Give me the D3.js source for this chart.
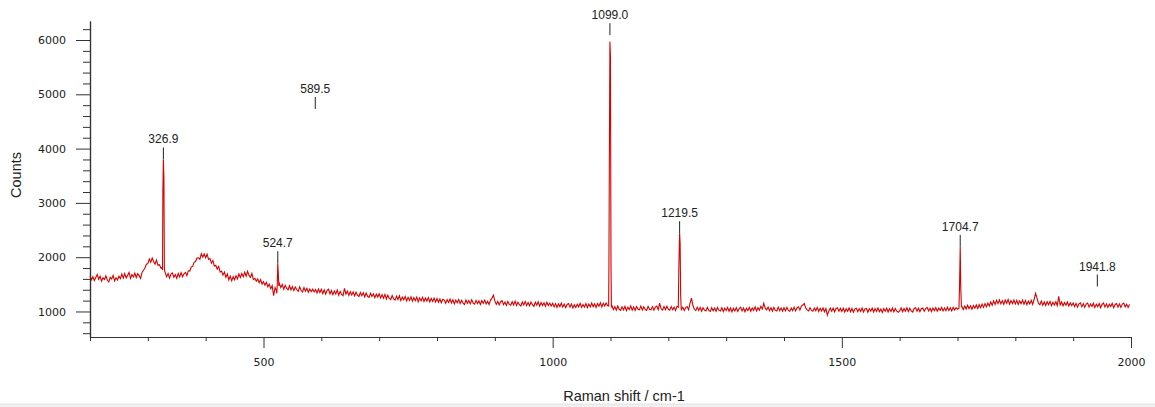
<!DOCTYPE html>
<html>
<head>
<meta charset="utf-8">
<script src="https://cdn.jsdelivr.net/npm/d3@7"></script>
<style>
  html, body { margin: 0; padding: 0; background: #fff; }
  svg { display: block; }
  text { font-family: "Liberation Sans", Arial, sans-serif; fill: #222; }
</style>
</head>
<body>
<svg id="chart" width="1155" height="407"></svg>
<script>
// Raman spectrum: background samples from 200 cm-1 in 2.5 cm-1 steps (40 per row = 100 cm-1)
const baseStart = 200;
const baseStep = 2.5;
const baseCounts = [
  // 200
  1660, 1585, 1640, 1570, 1625, 1680, 1595, 1650, 1560, 1620, 1590, 1655, 1575, 1545, 1630, 1600, 1665, 1565, 1620, 1580,
  1650, 1605, 1690, 1615, 1700, 1620, 1665, 1720, 1610, 1680, 1635, 1705, 1625, 1695, 1660, 1610, 1720, 1760, 1800, 1870,
  // 300
  1880, 1965, 1905, 1985, 1920, 1870, 1945, 1850, 1860, 1800, 1790, 1760, 1720, 1640, 1700, 1615, 1690, 1710, 1630, 1680,
  1610, 1700, 1635, 1715, 1640, 1695, 1720, 1660, 1750, 1745, 1820, 1830, 1905, 1920, 1985, 1990, 1960, 2065, 2000, 2060,
  // 400
  1990, 2055, 1960, 1975, 1890, 1940, 1835, 1850, 1780, 1830, 1725, 1745, 1670, 1725, 1630, 1690, 1580, 1650, 1565, 1640,
  1585, 1660, 1600, 1690, 1625, 1700, 1640, 1725, 1650, 1740, 1665, 1630, 1700, 1590, 1610, 1560, 1600, 1530, 1590, 1505,
  // 500
  1550, 1485, 1535, 1455, 1505, 1420, 1475, 1290, 1440, 1380, 1480, 1515, 1440, 1495, 1410, 1485, 1425, 1400, 1475, 1395,
  1460, 1385, 1450, 1405, 1370, 1455, 1390, 1360, 1440, 1375, 1425, 1355, 1415, 1365, 1410, 1360, 1405, 1340, 1415, 1350,
  // 600
  1410, 1330, 1400, 1320, 1390, 1410, 1325, 1385, 1310, 1380, 1320, 1395, 1300, 1370, 1315, 1290, 1425, 1320, 1375, 1295,
  1365, 1305, 1360, 1285, 1355, 1300, 1275, 1350, 1290, 1345, 1270, 1340, 1280, 1260, 1335, 1275, 1325, 1255, 1320, 1265,
  // 700
  1325, 1250, 1310, 1245, 1315, 1230, 1300, 1240, 1220, 1295, 1230, 1210, 1280, 1220, 1290, 1200, 1265, 1215, 1275, 1195,
  1260, 1205, 1270, 1190, 1255, 1200, 1265, 1180, 1250, 1195, 1260, 1185, 1245, 1190, 1255, 1175, 1240, 1185, 1245, 1175,
  // 800
  1240, 1170, 1230, 1160, 1225, 1210, 1150, 1220, 1165, 1230, 1155, 1215, 1140, 1210, 1160, 1220, 1145, 1205, 1155, 1130,
  1210, 1150, 1200, 1140, 1215, 1155, 1135, 1205, 1145, 1195, 1130, 1200, 1150, 1210, 1140, 1190, 1130, 1205, 1245, 1300,
  // 900
  1195, 1130, 1185, 1120, 1180, 1200, 1125, 1175, 1110, 1185, 1130, 1115, 1180, 1120, 1190, 1110, 1170, 1125, 1100, 1175,
  1120, 1185, 1110, 1165, 1105, 1175, 1125, 1095, 1170, 1115, 1180, 1100, 1165, 1110, 1160, 1095, 1170, 1110, 1155, 1100,
  // 1000
  1150, 1085, 1145, 1075, 1140, 1090, 1155, 1080, 1135, 1070, 1130, 1145, 1080, 1140, 1065, 1125, 1075, 1135, 1085, 1150,
  1075, 1130, 1080, 1145, 1070, 1135, 1085, 1155, 1090, 1140, 1075, 1145, 1095, 1160, 1085, 1150, 1100, 1155, 1105, 1130,
  // 1100
  1070, 1105, 1035, 1090, 1025, 1100, 1040, 1020, 1085, 1030, 1095, 1015, 1080, 1035, 1105, 1025, 1085, 1020, 1090, 1040,
  1030, 1100, 1025, 1085, 1035, 1020, 1095, 1040, 1030, 1090, 1025, 1080, 1100, 1035, 1155, 1050, 1025, 1090, 1035, 1095,
  // 1200
  1040, 1025, 1090, 1030, 1080, 1020, 1095, 1055, 1070, 1035, 1080, 1020, 1070, 1090, 1030, 1150, 1245, 1110, 1040, 1015,
  1080, 1020, 1075, 1005, 1070, 1025, 1010, 1075, 1020, 1000, 1070, 1015, 1065, 1005, 1075, 1020, 1010, 1070, 1000, 1060,
  // 1300
  1015, 1075, 1005, 1065, 995, 1060, 1010, 1070, 1000, 1055, 1080, 1010, 1065, 995, 1060, 1015, 1075, 1005, 1065, 1020,
  1085, 1010, 1070, 1025, 1095, 1045, 1150, 1060, 1030, 1080, 1015, 1070, 1005, 1075, 1020, 1010, 1080, 1015, 1065, 1005,
  // 1400
  1070, 1010, 1075, 1020, 1005, 1065, 1015, 1080, 1010, 1065, 1085, 1025, 1100, 1120, 1145, 1065, 1030, 1010, 1070, 1020,
  1005, 1065, 1015, 1075, 1000, 1060, 1010, 1065, 995, 1055, 930, 1010, 1065, 1005, 1060, 995, 1055, 1070, 1005, 1060,
  // 1500
  1000, 1060, 990, 1050, 1005, 1065, 995, 1055, 985, 1045, 1060, 995, 1050, 1000, 1065, 990, 1045, 1055, 985, 1050,
  1005, 1060, 990, 1055, 1000, 1065, 995, 1045, 980, 1055, 1005, 1060, 990, 1050, 1000, 1065, 995, 1055, 1005, 985,
  // 1600
  1010, 1065, 995, 1055, 1005, 1070, 1000, 1060, 1010, 990, 1055, 1070, 1005, 1060, 995, 1050, 1065, 1005, 1055, 1075,
  1010, 1060, 1000, 1065, 1015, 1070, 1005, 1060, 1020, 1075, 1010, 1065, 1015, 1080, 1020, 1070, 1010, 1075, 1025, 1070,
  // 1700
  1040, 1065, 1050, 1095, 1035, 1100, 1045, 1115, 1050, 1105, 1040, 1110, 1060, 1120, 1055, 1125, 1070, 1135, 1075, 1145,
  1085, 1155, 1100, 1175, 1115, 1195, 1130, 1205, 1145, 1215, 1140, 1200, 1130, 1210, 1150, 1220, 1135, 1200, 1145, 1210,
  // 1800
  1140, 1205, 1130, 1195, 1145, 1210, 1135, 1200, 1125, 1190, 1140, 1205, 1130, 1225, 1335, 1245, 1150, 1125, 1190, 1115,
  1175, 1110, 1180, 1125, 1185, 1105, 1170, 1120, 1180, 1110, 1280, 1120, 1175, 1105, 1165, 1115, 1175, 1100, 1160, 1110,
  // 1900
  1155, 1090, 1150, 1080, 1140, 1160, 1085, 1145, 1075, 1135, 1155, 1080, 1140, 1090, 1150, 1075, 1135, 1085, 1145, 1070,
  1130, 1155, 1080, 1140, 1075, 1135, 1090, 1150, 1070, 1130, 1145, 1080, 1140, 1075, 1135, 1155, 1085, 1135, 1075, 1130
];

// Sharp bands, sampled more finely (shift in cm-1, counts)
const band327Shift  = [324.5, 325.4, 326.0, 326.9, 327.8, 328.6, 329.5];
const band327Counts = [1810, 1760, 3200, 3800, 3450, 1780, 1730];
const band525Shift  = [523.0, 523.8, 524.7, 525.6, 526.5];
const band525Counts = [1330, 1500, 1890, 1700, 1470];
const band1099Shift  = [1096.8, 1097.3, 1098.0, 1099.0, 1099.9, 1100.9, 1101.6];
const band1099Counts = [1100, 1850, 3790, 5970, 5690, 1760, 1090];
const band1220Shift  = [1217.2, 1218.2, 1219.5, 1220.4, 1221.3, 1222.2];
const band1220Counts = [1080, 1820, 2440, 2250, 1300, 1060];
const band1705Shift  = [1702.5, 1703.5, 1704.7, 1705.7, 1706.8];
const band1705Counts = [1060, 1450, 2186, 1420, 1090];

// Peak-pick annotations: position label and the count level the marker sits on
const markerShift  = [326.9, 524.7, 589.5, 1099.0, 1219.5, 1704.7, 1941.8];
const markerCounts = [3800, 1890, 4730, 6090, 2440, 2190, 1460];

// Axis ticks
const xMajorTicks = [500, 1000, 1500, 2000];
const yMajorTicks = [1000, 2000, 3000, 4000, 5000, 6000];

const xTitle = "Raman shift / cm-1";
const yTitle = "Counts";

// ---------------------------------------------------------------
const svg = d3.select("#chart");
const W = 1155;

const x = d3.scaleLinear().domain([200, 2000]).range([90, 1131]);
const y = d3.scaleLinear().domain([530, 6350]).range([337, 21]);

// assemble the spectrum: background samples plus the finely sampled bands
const bands = [
  [band327Shift, band327Counts],
  [band525Shift, band525Counts],
  [band1099Shift, band1099Counts],
  [band1220Shift, band1220Counts],
  [band1705Shift, band1705Counts]
];
let spectrum = baseCounts.map((c, i) => ({ s: baseStart + i * baseStep, c }));
bands.forEach(([sh]) => {
  const lo = sh[0], hi = sh[sh.length - 1];
  spectrum = spectrum.filter(d => d.s < lo || d.s > hi);
});
bands.forEach(([sh, ct]) => sh.forEach((s, i) => spectrum.push({ s, c: ct[i] })));
spectrum.sort((a, b) => a.s - b.s);

// strip along the bottom edge
svg.append("rect").attr("x", 0).attr("y", 404).attr("width", W).attr("height", 3).attr("fill", "#f0f0f0");
svg.append("line").attr("x1", 0).attr("x2", W).attr("y1", 404).attr("y2", 404).attr("stroke", "#e2e2e2");

// spectrum trace
const line = d3.line().x(d => x(d.s)).y(d => y(d.c));
svg.append("path")
  .datum(spectrum)
  .attr("d", line)
  .attr("fill", "none")
  .attr("stroke", "#d80000")
  .attr("stroke-width", 1.1)
  .attr("stroke-linejoin", "miter");

// axes
const axisColor = "#333";
const xMinor = d3.range(200, 2001, 100).filter(v => !xMajorTicks.includes(v));
const yMinor = d3.range(600, 6201, 200).filter(v => !yMajorTicks.includes(v));

const gx = svg.append("g").attr("transform", "translate(0,337)");
gx.call(d3.axisBottom(x).tickValues(xMinor).tickSize(4).tickSizeOuter(0).tickFormat(""));
gx.call(g => g.append("g").call(d3.axisBottom(x).tickValues(xMajorTicks).tickSize(11).tickSizeOuter(0).tickPadding(10).tickFormat(d3.format("d"))));

const gy = svg.append("g").attr("transform", "translate(90,0)");
gy.call(d3.axisLeft(y).tickValues(yMinor).tickSize(7).tickSizeOuter(0).tickFormat(""));
gy.call(g => g.append("g").call(d3.axisLeft(y).tickValues(yMajorTicks).tickSize(14).tickSizeOuter(0).tickPadding(10).tickFormat(d3.format("d"))));

svg.selectAll(".domain").attr("stroke", axisColor).attr("stroke-width", 1.2);
svg.selectAll(".tick line").attr("stroke", axisColor);
svg.selectAll(".tick text").attr("font-size", 11).attr("fill", "#222")
  .style("font-family", "'DejaVu Sans', Verdana, sans-serif");

// axis titles
svg.append("text").attr("x", 624).attr("y", 401).attr("text-anchor", "middle")
  .attr("font-size", 14.5).text(xTitle);
svg.append("text").attr("transform", "translate(21,175) rotate(-90)").attr("text-anchor", "middle")
  .attr("font-size", 14.5).text(yTitle);

// peak markers with labels
const markers = markerShift.map((s, i) => ({ s, c: markerCounts[i] }));
const mg = svg.append("g");
mg.selectAll("line").data(markers).join("line")
  .attr("x1", d => x(d.s)).attr("x2", d => x(d.s))
  .attr("y1", d => y(d.c)).attr("y2", d => y(d.c) - 12)
  .attr("stroke", "#222").attr("stroke-width", 1);
mg.selectAll("text").data(markers).join("text")
  .attr("x", d => x(d.s)).attr("y", d => y(d.c) - 16)
  .attr("text-anchor", "middle").attr("font-size", 12)
  .text(d => d.s.toFixed(1));
</script>
</body>
</html>
